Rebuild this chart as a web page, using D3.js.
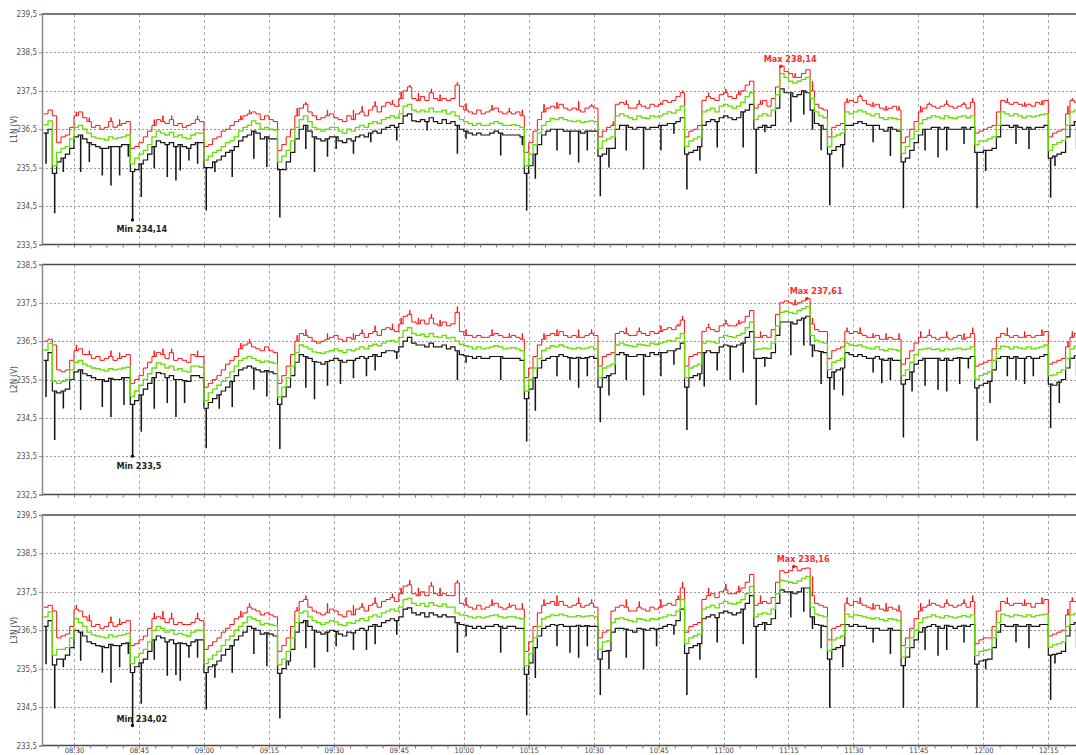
<!DOCTYPE html>
<html>
<head>
<meta charset="utf-8">
<script src="https://cdn.jsdelivr.net/npm/d3@7"></script>
<style>
  body { margin: 0; background: #fff; }
  svg { display: block; }
  text { font-family: "Liberation Sans Narrow", "DejaVu Sans Condensed", "Liberation Sans", sans-serif; }
</style>
</head>
<body>
<svg id="chart" width="1076" height="755"></svg>
<script>
// One sample per minute, starting at this time
const startTime = "08:23";

// Time-axis labels
const timeTicks = ["08:30","08:45","09:00","09:15","09:30","09:45","10:00","10:15",
                   "10:30","10:45","11:00","11:15","11:30","11:45","12:00","12:15"];

// Voltage tick labels per phase
const yTicksL1 = [233.5, 234.5, 235.5, 236.5, 237.5, 238.5, 239.5];
const yTicksL2 = [232.5, 233.5, 234.5, 235.5, 236.5, 237.5, 238.5];
const yTicksL3 = [233.5, 234.5, 235.5, 236.5, 237.5, 238.5, 239.5];

const phaseNames = ["L1N (V)", "L2N (V)", "L3N (V)"];

// ---- L1N ----
const l1Avg = [
236.62,236.72,235.55,235.9,236.0,236.05,236.25,236.55,236.6,236.5,236.4,236.3,236.27,236.25,236.22,
236.3,236.25,236.28,236.3,236.35,235.6,235.75,235.85,235.95,236.1,236.3,236.45,236.4,236.35,236.42,
236.3,236.35,236.28,236.25,236.35,236.4,236.4,235.7,235.8,235.9,235.95,236.05,236.15,236.2,236.3,
236.45,236.55,236.6,236.72,236.65,236.5,236.55,236.5,236.48,235.65,235.8,235.95,236.2,236.55,236.75,
236.85,236.7,236.55,236.5,236.45,236.5,236.55,236.55,236.45,236.4,236.5,236.45,236.55,236.6,236.55,
236.65,236.7,236.65,236.75,236.8,236.85,236.8,236.9,237.1,237.15,237.0,236.95,237.0,236.95,237.05,
236.95,236.95,237.0,236.9,236.95,236.85,236.75,236.7,236.65,236.6,236.65,236.6,236.6,236.65,236.7,
236.65,236.6,236.6,236.62,236.6,236.55,235.55,235.85,236.1,236.4,236.6,236.7,236.78,236.75,236.8,
236.75,236.72,236.7,236.72,236.68,236.7,236.72,236.7,236.0,236.2,236.25,236.3,236.85,236.9,236.85,
236.8,236.75,236.85,236.8,236.78,236.85,236.82,236.85,236.9,236.95,236.92,237.0,237.1,236.05,236.2,
236.25,236.3,236.95,237.0,237.05,236.95,237.1,237.15,237.1,237.05,237.1,237.2,237.35,237.45,236.75,
236.85,236.9,236.85,237.0,237.4,237.95,237.85,237.75,237.7,237.75,237.8,237.85,237.3,236.95,236.85,
236.8,236.05,236.3,236.35,236.4,236.95,236.9,236.95,237.0,236.95,236.9,236.85,236.9,236.8,236.75,
236.8,236.78,236.75,235.87,236.05,236.25,236.45,236.65,236.75,236.8,236.85,236.82,236.78,236.85,236.8,
236.78,236.82,236.85,236.8,236.85,236.1,236.2,236.2,236.25,236.3,236.6,236.95,236.9,236.85,236.9,
236.85,236.8,236.85,236.82,236.85,236.88,236.9,235.95,236.1,236.15,236.2,236.6,236.95,237.0];
// per-minute maximum, with short peaks listed separately as [minute index, volts]
const l1Max = [
236.9,237.0,236.85,236.15,236.3,236.35,236.55,236.85,236.95,236.8,236.7,236.55,236.6,236.5,236.55,
236.7,236.55,236.6,236.65,236.7,236.0,236.05,236.15,236.3,236.45,236.6,236.75,236.7,236.65,236.75,
236.6,236.65,236.55,236.6,236.65,236.75,236.7,236.05,236.1,236.25,236.3,236.45,236.5,236.6,236.7,
236.75,236.85,236.9,236.95,236.9,236.75,236.85,236.75,236.7,235.95,236.1,236.3,236.5,236.85,237.05,
237.15,236.95,236.85,236.75,236.8,236.85,236.9,236.8,236.75,236.7,236.85,236.75,236.9,236.95,236.85,
237.0,237.1,236.95,237.1,237.2,237.15,237.1,237.3,237.5,237.6,237.3,237.25,237.35,237.25,237.45,
237.3,237.25,237.3,237.25,237.3,237.65,237.1,237.0,236.95,236.9,237.0,236.9,236.95,237.0,237.05,
236.95,236.9,236.95,236.9,236.95,236.85,235.9,236.15,236.45,236.75,236.95,237.05,237.1,237.05,237.15,
237.05,237.0,237.05,237.0,236.95,237.05,237.1,237.05,236.3,236.45,236.55,236.6,237.15,237.2,237.15,
237.05,237.05,237.15,237.1,237.05,237.15,237.1,237.15,237.25,237.2,237.25,237.35,237.45,236.3,236.45,
236.5,236.6,237.25,237.35,237.3,237.25,237.4,237.45,237.35,237.3,237.4,237.5,237.65,237.75,237.05,
237.15,237.25,237.1,237.3,237.6,238.14,238.0,237.95,237.85,237.85,237.95,238.05,237.5,237.15,237.05,
237.0,236.3,236.55,236.6,236.65,237.2,237.25,237.2,237.35,237.25,237.15,237.1,237.15,237.05,237.0,
237.05,237.1,237.0,236.15,236.3,236.5,236.7,236.95,237.05,237.15,237.1,237.05,237.1,237.15,237.1,
237.05,237.1,237.15,237.05,237.2,236.4,236.45,236.5,236.55,236.6,236.95,237.25,237.2,237.15,237.2,
237.15,237.1,237.15,237.1,237.2,237.15,237.25,236.3,236.4,236.45,236.5,236.9,237.25,237.2];
const l1Peaks = [
[7,236.95],[10,236.8],[15,236.8],[17,236.75],[25,236.75],[27,236.85],[29,236.85],[35,236.85],[45,236.85],
[47,237.0],[58,237.05],[60,237.2],[65,237.0],[71,237.0],[73,237.1],[76,237.22],[80,237.26],[82,237.48],
[84,237.65],[86,237.44],[89,237.55],[91,237.4],[95,237.72],[97,237.17],[103,237.13],[107,237.05],
[110,237.0],[115,237.15],[118,237.2],[123,237.23],[126,237.15],[131,236.7],[134,237.25],[137,237.25],
[142,237.2],[146,237.35],[147,237.5],[153,237.45],[157,237.55],[160,237.5],[165,237.25],[173,237.95],
[177,237.75],[185,237.3],[188,237.4],[191,237.2],[194,237.1],[197,237.1],[202,237.1],[204,237.2],
[208,237.25],[212,237.2],[214,237.3],[222,237.3],[226,237.2],[230,237.25],[236,237.1],[237,237.3]];
// per-minute minimum, with short dips listed separately as [minute index, volts]
const l1Min = [
236.4,236.5,235.35,235.65,235.75,235.85,236.0,236.3,236.35,236.25,236.15,236.1,236.05,236.0,236.0,
236.05,236.05,236.05,236.1,236.1,235.4,235.45,235.6,235.7,235.85,236.05,236.2,236.15,236.1,236.15,
236.05,236.1,236.05,236.0,236.1,236.15,236.15,235.5,235.5,235.65,235.7,235.8,235.9,235.95,236.05,
236.2,236.3,236.35,236.45,236.4,236.25,236.3,236.25,236.25,235.45,235.45,235.65,235.9,236.25,236.5,
236.6,236.45,236.3,236.25,236.2,236.25,236.3,236.3,236.2,236.15,236.25,236.2,236.3,236.35,236.3,
236.4,236.45,236.4,236.5,236.55,236.6,236.55,236.65,236.85,236.9,236.72,236.7,236.75,236.7,236.8,
236.7,236.65,236.75,236.65,236.7,236.6,236.5,236.45,236.4,236.35,236.4,236.35,236.35,236.4,236.45,
236.4,236.35,236.35,236.35,236.35,236.3,235.35,235.55,235.85,236.1,236.35,236.45,236.5,236.5,236.5,
236.45,236.45,236.45,236.45,236.4,236.45,236.45,236.45,235.8,235.85,236.0,236.0,236.5,236.6,236.6,
236.55,236.5,236.55,236.55,236.5,236.55,236.55,236.6,236.6,236.65,236.65,236.7,236.8,235.85,235.9,
235.95,236.05,236.6,236.7,236.75,236.7,236.8,236.85,236.8,236.75,236.8,236.95,237.0,237.15,236.5,
236.55,236.6,236.55,236.6,237.05,237.55,237.45,237.45,237.35,237.4,237.5,237.45,237.0,236.65,236.6,
236.5,235.85,235.95,236.05,236.1,236.6,236.6,236.65,236.7,236.65,236.6,236.6,236.6,236.5,236.45,
236.55,236.5,236.45,235.65,235.75,235.95,236.15,236.35,236.5,236.5,236.55,236.55,236.5,236.55,236.5,
236.5,236.5,236.55,236.5,236.55,235.9,235.9,235.95,235.95,236.0,236.3,236.6,236.6,236.55,236.6,
236.55,236.5,236.55,236.5,236.55,236.55,236.6,235.75,235.8,235.85,235.9,236.3,236.6,236.7];
const l1Dips = [
[0,235.62],[2,234.33],[4,235.4],[8,235.4],[10,235.66],[13,235.31],[15,235.05],[17,235.31],[19,235.8],
[20,234.14],[22,234.75],[25,235.5],[28,235.27],[30,235.18],[31,235.44],[33,235.7],[35,235.62],[37,234.4],
[39,235.4],[43,235.27],[48,235.75],[51,235.53],[54,234.22],[60,236.0],[62,235.4],[65,235.8],[67,236.0],
[71,235.88],[75,236.18],[81,236.22],[88,236.48],[95,235.88],[97,236.27],[105,235.83],[110,236.1],
[111,234.4],[113,235.23],[118,235.96],[121,235.85],[123,235.65],[125,235.96],[128,234.77],[130,235.52],
[134,235.96],[138,235.47],[142,235.96],[145,236.4],[148,234.95],[151,235.7],[155,236.04],[161,236.04],
[164,235.36],[166,236.44],[172,236.7],[175,236.9],[177,236.5],[179,235.97],[181,234.54],[184,235.52],
[191,236.18],[195,235.82],[198,234.46],[203,235.96],[206,235.78],[208,235.96],[212,236.13],[215,234.46],
[217,235.43],[224,236.13],[227,236.0],[232,234.73],[233,235.56],[238,236.0]];

// ---- L2N ----
const l2Avg = [
236.27,236.44,235.45,235.4,235.45,235.5,235.75,235.95,236.0,235.9,235.85,235.8,235.78,235.75,235.72,
235.78,235.75,235.77,235.8,235.82,235.06,235.2,235.35,235.5,235.65,235.8,235.93,235.9,235.8,235.85,
235.75,235.78,235.72,235.7,235.85,235.85,235.82,234.95,235.15,235.25,235.35,235.45,235.55,235.7,235.85,
236.0,236.05,236.1,236.05,236.0,235.95,235.98,235.95,235.92,235.05,235.3,235.55,235.85,236.2,236.4,
236.35,236.3,236.22,236.2,236.18,236.22,236.25,236.3,236.25,236.2,236.28,236.25,236.3,236.35,236.3,
236.38,236.42,236.38,236.45,236.5,236.52,236.48,236.6,236.78,236.85,236.7,236.65,236.68,236.62,236.7,
236.62,236.6,236.65,236.58,236.6,236.5,236.42,236.38,236.35,236.3,236.35,236.3,236.32,236.35,236.38,
236.35,236.3,236.32,236.33,236.3,236.25,235.2,235.5,235.8,236.05,236.25,236.32,236.38,236.35,236.4,
236.35,236.32,236.3,236.33,236.3,236.32,236.35,236.3,235.55,235.8,235.85,235.9,236.4,236.45,236.4,
236.38,236.35,236.42,236.4,236.38,236.45,236.42,236.45,236.48,236.52,236.5,236.58,236.7,235.55,235.8,
235.85,235.9,236.45,236.5,236.48,236.45,236.6,236.65,236.62,236.6,236.65,236.7,236.85,237.0,236.28,
236.3,236.32,236.3,236.45,236.9,237.25,237.28,237.25,237.22,237.3,237.35,237.4,236.65,236.52,236.48,
236.45,235.76,235.95,236.0,236.05,236.45,236.4,236.38,236.4,236.35,236.32,236.3,236.35,236.28,236.25,
236.3,236.28,236.25,235.6,235.75,235.95,236.15,236.28,236.3,236.32,236.28,236.3,236.25,236.3,236.28,
236.3,236.32,236.28,236.3,236.35,235.5,235.6,235.65,235.7,236.0,236.3,236.37,236.35,236.3,236.35,
236.32,236.3,236.35,236.3,236.32,236.35,236.4,235.6,235.62,235.68,235.75,236.05,236.3,236.37];
const l2Max = [
236.5,236.55,236.4,235.75,235.7,235.75,236.0,236.25,236.3,236.15,236.15,236.05,236.1,236.0,236.05,
236.1,236.0,236.05,236.1,236.15,235.4,235.5,235.6,235.8,235.95,236.1,236.2,236.15,236.05,236.2,
236.0,236.05,236.0,235.95,236.15,236.1,236.1,235.3,235.4,235.5,235.6,235.75,235.9,236.0,236.1,
236.3,236.4,236.45,236.35,236.3,236.25,236.35,236.25,236.2,235.4,235.6,235.85,236.15,236.5,236.7,
236.65,236.6,236.5,236.45,236.5,236.55,236.6,236.65,236.55,236.5,236.6,236.55,236.65,236.7,236.6,
236.7,236.75,236.65,236.8,236.85,236.8,236.75,236.95,237.15,237.2,237.0,236.95,237.05,236.95,237.1,
236.95,236.9,237.0,236.9,236.95,237.25,236.75,236.65,236.65,236.6,236.65,236.6,236.6,236.65,236.7,
236.65,236.6,236.6,236.65,236.6,236.55,235.55,235.8,236.1,236.4,236.55,236.65,236.7,236.65,236.75,
236.65,236.6,236.65,236.6,236.6,236.65,236.7,236.65,235.85,236.1,236.15,236.2,236.7,236.75,236.7,
236.65,236.65,236.75,236.7,236.65,236.75,236.7,236.75,236.8,236.85,236.8,236.9,237.05,235.85,236.1,
236.15,236.2,236.75,236.85,236.8,236.75,236.9,236.95,236.9,236.9,236.95,237.0,237.15,237.3,236.6,
236.6,236.65,236.6,236.8,237.2,237.5,237.55,237.5,237.45,237.5,237.55,237.61,236.95,236.8,236.75,
236.75,236.05,236.25,236.3,236.35,236.75,236.7,236.75,236.7,236.65,236.6,236.6,236.65,236.55,236.55,
236.6,236.55,236.55,235.9,236.05,236.25,236.45,236.6,236.6,236.65,236.6,236.55,236.6,236.6,236.55,
236.6,236.65,236.55,236.6,236.7,235.85,235.9,235.95,236.0,236.3,236.6,236.7,236.65,236.6,236.65,
236.6,236.6,236.65,236.6,236.65,236.65,236.75,235.9,235.95,236.0,236.05,236.35,236.6,236.7];
const l2Peaks = [
[7,236.4],[10,236.25],[15,236.25],[17,236.2],[25,236.25],[27,236.3],[29,236.3],[35,236.25],[45,236.45],
[47,236.55],[58,236.65],[60,236.8],[65,236.7],[71,236.7],[73,236.8],[76,236.9],[80,236.95],[82,237.1],
[84,237.3],[86,237.1],[89,237.2],[91,237.05],[95,237.4],[97,236.8],[103,236.8],[107,236.7],[110,236.7],
[115,236.7],[118,236.8],[123,236.8],[126,236.8],[134,236.85],[137,236.85],[142,236.9],[146,236.95],
[147,237.15],[153,236.95],[157,237.05],[160,237.05],[165,236.75],[173,237.58],[177,237.1],[185,236.85],
[188,236.85],[191,236.7],[194,236.7],[197,236.7],[202,236.75],[204,236.8],[208,236.75],[212,236.7],
[214,236.85],[222,236.85],[226,236.75],[230,236.8],[236,236.5],[237,236.75]];
const l2Min = [
236.0,236.2,235.2,235.15,235.2,235.25,235.5,235.7,235.75,235.65,235.6,235.55,235.5,235.5,235.45,
235.53,235.5,235.5,235.55,235.55,234.85,234.95,235.1,235.25,235.4,235.55,235.68,235.65,235.55,235.6,
235.5,235.5,235.47,235.45,235.6,235.6,235.55,234.75,234.9,235.0,235.1,235.2,235.3,235.45,235.6,
235.75,235.8,235.85,235.8,235.75,235.7,235.73,235.7,235.65,234.85,235.05,235.3,235.6,235.95,236.15,
236.1,236.05,235.97,235.95,235.9,235.97,236.0,236.05,236.0,235.95,236.0,236.0,236.05,236.1,236.05,
236.1,236.15,236.1,236.2,236.25,236.25,236.22,236.35,236.5,236.6,236.45,236.4,236.4,236.35,236.45,
236.35,236.35,236.4,236.3,236.35,236.25,236.15,236.12,236.1,236.05,236.1,236.05,236.05,236.1,236.1,
236.1,236.05,236.05,236.05,236.05,236.0,235.0,235.25,235.55,235.8,236.0,236.05,236.1,236.1,236.15,
236.1,236.07,236.05,236.08,236.05,236.07,236.1,236.05,235.3,235.55,235.6,235.65,236.15,236.2,236.15,
236.1,236.1,236.15,236.15,236.1,236.2,236.15,236.2,236.2,236.25,236.25,236.3,236.45,235.3,235.55,
235.6,235.65,236.2,236.25,236.2,236.2,236.35,236.4,236.37,236.35,236.4,236.45,236.6,236.75,236.05,
236.05,236.07,236.05,236.2,236.65,237.0,237.0,237.0,236.95,237.05,237.1,237.15,236.4,236.25,236.23,
236.2,235.55,235.7,235.75,235.8,236.2,236.15,236.1,236.15,236.1,236.05,236.05,236.1,236.03,236.0,
236.05,236.0,236.0,235.38,235.5,235.7,235.9,236.0,236.05,236.05,236.05,236.05,236.0,236.05,236.0,
236.05,236.07,236.05,236.05,236.1,235.28,235.35,235.4,235.45,235.75,236.05,236.1,236.1,236.05,236.1,
236.05,236.05,236.1,236.05,236.05,236.1,236.15,235.38,235.35,235.43,235.5,235.8,236.05,236.12];
const l2Dips = [
[0,235.06],[2,233.94],[4,234.76],[8,234.72],[13,234.8],[15,234.54],[18,234.85],[20,233.5],[22,234.15],
[25,234.75],[28,234.9],[30,234.54],[32,234.9],[37,233.72],[40,234.75],[43,234.8],[48,235.25],[51,235.07],
[54,233.7],[60,235.3],[62,235.0],[65,235.35],[68,235.4],[71,235.55],[74,235.6],[76,235.75],[81,236.05],
[95,235.5],[97,235.95],[105,235.5],[111,233.9],[113,234.7],[118,235.6],[121,235.5],[123,235.3],[125,235.6],
[128,234.4],[130,235.1],[134,235.5],[138,235.1],[142,235.6],[145,235.9],[148,234.2],[151,235.5],
[152,235.33],[155,235.75],[158,235.5],[161,235.7],[164,234.85],[166,235.85],[172,236.15],[175,236.4],
[177,236.1],[179,235.4],[181,234.2],[182,235.25],[184,235.1],[191,235.7],[193,235.42],[195,235.5],
[198,234.0],[200,235.2],[203,235.35],[206,235.25],[208,235.2],[211,235.4],[213,235.8],[215,233.92],
[218,234.9],[222,235.6],[224,235.5],[226,235.4],[228,235.6],[232,234.25],[234,234.9],[238,235.6]];

// ---- L3N ----
const l3Avg = [
236.85,236.98,235.85,236.0,236.0,236.05,236.3,236.8,236.7,236.6,236.45,236.38,236.35,236.33,236.3,
236.38,236.33,236.36,236.38,236.42,235.63,235.8,235.9,236.0,236.2,236.5,236.6,236.55,236.45,236.5,
236.4,236.42,236.38,236.35,236.45,236.5,236.5,235.63,235.75,235.85,235.95,236.1,236.25,236.35,236.5,
236.6,236.7,236.85,236.8,236.75,236.65,236.68,236.65,236.62,235.6,235.75,235.95,236.3,236.7,236.95,
237.0,236.85,236.75,236.7,236.65,236.7,236.75,236.72,236.65,236.62,236.7,236.68,236.75,236.8,236.75,
236.85,236.9,236.85,236.95,237.0,237.05,237.0,237.1,237.3,237.33,237.2,237.15,237.2,237.12,237.22,
237.15,237.12,237.18,237.1,237.1,236.95,236.9,236.88,236.85,236.82,236.85,236.82,236.85,236.88,236.9,
236.85,236.82,236.85,236.85,236.82,236.8,235.58,235.9,236.3,236.6,236.8,236.85,236.9,236.88,236.92,
236.88,236.85,236.85,236.88,236.85,236.87,236.88,236.85,236.0,236.2,236.22,236.7,236.8,236.82,236.78,
236.75,236.72,236.8,236.78,236.75,236.8,236.78,236.82,236.85,236.9,236.88,237.0,237.3,236.15,236.3,
236.35,236.4,237.05,237.1,237.15,237.08,237.2,237.25,237.2,237.18,237.22,237.3,237.45,237.64,236.85,
236.92,236.95,236.92,237.05,237.45,237.8,237.78,237.75,237.72,237.78,237.85,237.9,237.1,236.92,236.88,
236.85,235.97,236.25,236.3,236.35,236.92,236.85,236.9,236.88,236.85,236.82,236.8,236.82,236.78,236.75,
236.8,236.78,236.75,235.8,236.05,236.3,236.5,236.7,236.82,236.85,236.9,236.85,236.82,236.88,236.85,
236.82,236.85,236.88,236.85,236.9,235.84,235.95,235.98,236.0,236.3,236.7,236.92,236.88,236.85,236.9,
236.88,236.85,236.9,236.85,236.88,236.9,236.92,236.06,236.12,236.15,236.2,236.6,236.9,236.94];
const l3Max = [
237.1,237.15,237.0,236.3,236.35,236.4,236.6,237.05,237.0,236.85,236.75,236.6,236.65,236.55,236.6,
236.7,236.6,236.65,236.7,236.75,236.1,236.15,236.25,236.35,236.55,236.8,236.85,236.8,236.7,236.8,
236.65,236.7,236.65,236.65,236.7,236.8,236.75,236.0,236.1,236.2,236.3,236.45,236.55,236.65,236.8,
236.85,236.95,237.1,237.05,237.0,236.9,236.95,236.9,236.85,235.95,236.1,236.3,236.6,237.0,237.25,
237.3,237.1,237.0,236.95,236.9,236.95,237.05,237.0,236.9,236.85,237.0,236.9,237.05,237.1,237.0,
237.15,237.2,237.1,237.25,237.3,237.35,237.25,237.45,237.65,237.68,237.45,237.4,237.5,237.4,237.65,
237.45,237.4,237.45,237.4,237.4,237.73,237.2,237.15,237.1,237.05,237.15,237.05,237.1,237.15,237.2,
237.1,237.05,237.1,237.15,237.05,237.05,235.95,236.2,236.6,236.95,237.15,237.2,237.25,237.15,237.25,
237.15,237.1,237.15,237.2,237.1,237.15,237.2,237.1,236.3,236.45,236.5,237.0,237.1,237.15,237.1,
237.0,237.0,237.1,237.05,237.0,237.1,237.05,237.1,237.15,237.2,237.15,237.3,237.6,236.45,236.6,
236.65,236.7,237.3,237.4,237.45,237.35,237.5,237.55,237.45,237.45,237.5,237.6,237.75,237.95,237.15,
237.2,237.25,237.2,237.35,237.75,238.05,238.0,238.05,238.16,238.05,238.1,238.12,237.4,237.2,237.15,
237.1,236.25,236.55,236.6,236.65,237.2,237.15,237.25,237.2,237.15,237.1,237.05,237.15,237.05,237.0,
237.1,237.05,237.0,236.1,236.3,236.55,236.8,237.0,237.1,237.15,237.2,237.15,237.1,237.2,237.15,
237.1,237.15,237.2,237.1,237.25,236.15,236.25,236.3,236.3,236.6,237.0,237.25,237.2,237.15,237.2,
237.2,237.15,237.2,237.1,237.2,237.2,237.3,236.35,236.4,236.45,236.5,236.9,237.25,237.25];
const l3Peaks = [
[7,237.15],[10,236.9],[15,236.85],[17,236.8],[25,236.95],[27,237.0],[29,236.95],[35,236.95],[45,237.0],
[47,237.2],[58,237.1],[60,237.4],[65,237.2],[71,237.15],[73,237.2],[76,237.35],[80,237.45],[82,237.6],
[84,237.8],[86,237.6],[89,237.75],[91,237.6],[95,237.8],[97,237.35],[103,237.3],[107,237.2],[110,237.2],
[115,237.3],[118,237.4],[123,237.35],[126,237.3],[134,237.3],[137,237.25],[142,237.3],[146,237.4],
[147,237.75],[153,237.6],[157,237.7],[160,237.65],[165,237.4],[177,237.9],[185,237.35],[188,237.35],
[191,237.2],[194,237.2],[197,237.15],[202,237.2],[204,237.3],[208,237.3],[212,237.3],[214,237.4],
[222,237.35],[226,237.3],[230,237.35],[236,237.05],[237,237.35]];
const l3Min = [
236.6,236.75,235.6,235.75,235.75,235.85,236.05,236.5,236.45,236.35,236.2,236.15,236.1,236.08,236.05,
236.13,236.1,236.1,236.15,236.17,235.4,235.55,235.65,235.75,235.95,236.25,236.35,236.3,236.2,236.25,
236.15,236.17,236.15,236.1,236.2,236.25,236.25,235.4,235.55,235.6,235.7,235.85,236.0,236.1,236.25,
236.35,236.45,236.6,236.55,236.5,236.4,236.43,236.4,236.35,235.38,235.5,235.7,236.0,236.45,236.7,
236.75,236.6,236.5,236.45,236.4,236.45,236.5,236.47,236.4,236.35,236.45,236.43,236.5,236.55,236.5,
236.6,236.65,236.6,236.7,236.75,236.8,236.75,236.85,237.05,237.08,236.95,236.9,236.95,236.85,236.95,
236.9,236.85,236.9,236.85,236.85,236.7,236.65,236.63,236.6,236.55,236.6,236.55,236.6,236.6,236.65,
236.6,236.55,236.6,236.6,236.55,236.55,235.35,235.65,236.05,236.35,236.55,236.6,236.65,236.63,236.65,
236.6,236.6,236.6,236.63,236.6,236.62,236.6,236.6,235.75,235.95,235.97,236.45,236.55,236.55,236.53,
236.5,236.45,236.55,236.53,236.5,236.55,236.53,236.55,236.6,236.65,236.63,236.75,237.05,235.9,236.05,
236.1,236.15,236.8,236.85,236.9,236.83,236.95,237.0,236.95,236.9,236.95,237.05,237.2,237.4,236.6,
236.65,236.7,236.65,236.8,237.2,237.55,237.5,237.5,237.45,237.5,237.6,237.6,236.85,236.65,236.63,
236.6,235.75,236.0,236.05,236.1,236.65,236.6,236.65,236.6,236.6,236.55,236.55,236.55,236.5,236.5,
236.55,236.5,236.5,235.58,235.8,236.05,236.25,236.45,236.57,236.6,236.65,236.6,236.55,236.63,236.6,
236.55,236.6,236.63,236.6,236.65,235.62,235.7,235.73,235.75,236.05,236.45,236.65,236.6,236.6,236.65,
236.6,236.6,236.65,236.6,236.6,236.65,236.65,235.85,235.87,235.9,235.95,236.35,236.65,236.7];
const l3Dips = [
[0,235.63],[2,234.48],[4,235.55],[8,235.72],[13,235.41],[15,235.15],[17,235.55],[19,235.9],[20,234.02],
[22,234.6],[25,235.75],[28,235.33],[30,235.35],[31,235.2],[33,235.8],[35,235.8],[37,234.45],[39,235.28],
[43,235.41],[48,235.9],[51,235.58],[54,234.22],[56,235.6],[60,236.05],[62,235.54],[65,235.95],[67,236.1],
[71,236.0],[74,236.0],[76,236.15],[81,236.4],[95,235.93],[97,236.35],[105,235.93],[111,234.3],[113,235.27],
[118,236.1],[121,235.93],[123,235.8],[125,236.1],[128,234.83],[130,235.5],[134,235.8],[138,235.5],
[141,236.1],[145,236.4],[148,234.83],[151,235.75],[155,236.2],[161,236.15],[164,235.27],[166,236.5],
[172,236.85],[175,237.0],[177,236.55],[179,236.05],[181,234.5],[184,235.55],[191,236.2],[195,235.9],
[198,234.5],[203,236.0],[206,235.85],[208,236.0],[212,236.2],[215,234.5],[217,235.5],[224,236.2],
[227,236.05],[232,234.7],[233,235.65],[238,236.05]];

// Annotation placement per phase (label offsets relative to the marker)
const minLabelDy = [12.5, 13, -3.5];
const maxLabelDy = [-4.5, -4.5, -4.5];

// ---------------------------------------------------------------
const W = 1076, H = 755;
const plotLeft = 42, plotRight = 1076;
const boxes = [
  { top: 14,    bottom: 244.5 },
  { top: 264.5, bottom: 494.5 },
  { top: 515,   bottom: 745.5 }
];

const phases = [
  { name: phaseNames[0], ticks: yTicksL1, avg: l1Avg, max: l1Max, peaks: l1Peaks, min: l1Min, dips: l1Dips },
  { name: phaseNames[1], ticks: yTicksL2, avg: l2Avg, max: l2Max, peaks: l2Peaks, min: l2Min, dips: l2Dips },
  { name: phaseNames[2], ticks: yTicksL3, avg: l3Avg, max: l3Max, peaks: l3Peaks, min: l3Min, dips: l3Dips }
];

const parseHM = d3.timeParse("%H:%M");
const t0 = parseHM(startTime);
const majorTimes = timeTicks.map(parseHM);
const atMinute = m => new Date(t0.getTime() + m * 60000);

const x = d3.scaleTime()
  .domain([parseHM("08:30"), parseHM("12:15")])
  .range([74, 1048.3]);

// minor ticks: four per quarter hour, within the plot width
const minorTimes = [];
for (let m = -15; m <= 240; m += 3.75) {
  const t = new Date(parseHM("08:30").getTime() + m * 60000);
  const px = x(t);
  if (px >= plotLeft + 1 && px <= plotRight) minorTimes.push(t);
}

const comma = v => String(v).replace(".", ",");
const axisFont = '"Liberation Sans Narrow", "DejaVu Sans Condensed", sans-serif';

const svg = d3.select("#chart");
svg.append("rect").attr("width", W).attr("height", H).attr("fill", "#fff");
const defs = svg.append("defs");

// step series: one level per minute
const stepPoints = v => {
  const pts = v.map((val, i) => ({ t: atMinute(i), v: val }));
  pts.push({ t: atMinute(v.length), v: v[v.length - 1] });
  return pts;
};
// per-minute level plus narrow excursions (peaks or dips) inside the minute
const spikedPoints = (v, spikes) => {
  const at = new Map(spikes.map(d => [d[0], d[1]]));
  const pts = [];
  v.forEach((val, i) => {
    pts.push({ t: atMinute(i), v: val });
    if (at.has(i)) {
      pts.push({ t: atMinute(i + 0.5), v: at.get(i) });
      pts.push({ t: atMinute(i + 0.58), v: val });
    }
  });
  pts.push({ t: atMinute(v.length), v: v[v.length - 1] });
  return pts;
};

phases.forEach((p, k) => {
  const box = boxes[k];
  const y = d3.scaleLinear()
    .domain([p.ticks[0], p.ticks[p.ticks.length - 1]])
    .range([box.bottom, box.top]);

  const g = svg.append("g");

  defs.append("clipPath").attr("id", "clip" + k)
    .append("rect")
    .attr("x", plotLeft).attr("y", box.top)
    .attr("width", plotRight - plotLeft).attr("height", box.bottom - box.top);

  // dashed grid
  g.append("g").selectAll("line")
    .data(p.ticks.slice(1, -1))
    .join("line")
    .attr("x1", plotLeft).attr("x2", plotRight)
    .attr("y1", d => Math.round(y(d)) + 0.5).attr("y2", d => Math.round(y(d)) + 0.5)
    .attr("stroke", "#9a9a9a").attr("stroke-width", 1)
    .attr("stroke-dasharray", "2,2");

  g.append("g").selectAll("line")
    .data(majorTimes)
    .join("line")
    .attr("x1", d => Math.round(x(d)) + 0.5).attr("x2", d => Math.round(x(d)) + 0.5)
    .attr("y1", box.top).attr("y2", box.bottom)
    .attr("stroke", "#a8a8a8").attr("stroke-width", 1)
    .attr("stroke-dasharray", "3,3");

  const line = d3.line()
    .x(d => x(d.t))
    .y(d => y(d.v))
    .curve(d3.curveStepAfter);

  const plot = g.append("g").attr("clip-path", "url(#clip" + k + ")");
  plot.append("path").datum(spikedPoints(p.max, p.peaks))
    .attr("d", line).attr("fill", "none")
    .attr("stroke", "#ff1010").attr("stroke-width", 1);
  plot.append("path").datum(spikedPoints(p.min, p.dips))
    .attr("d", line).attr("fill", "none")
    .attr("stroke", "#151515").attr("stroke-width", 1.2);
  plot.append("path").datum(stepPoints(p.avg))
    .attr("d", line).attr("fill", "none")
    .attr("stroke", "#66dd00").attr("stroke-width", 1.3);

  // frame: top and bottom rules
  g.append("line")
    .attr("x1", plotLeft).attr("x2", plotRight)
    .attr("y1", box.top).attr("y2", box.top)
    .attr("stroke", "#4a4a4a").attr("stroke-width", 1.5);
  g.append("line")
    .attr("x1", plotLeft).attr("x2", plotRight)
    .attr("y1", box.bottom).attr("y2", box.bottom)
    .attr("stroke", "#4a4a4a").attr("stroke-width", 1.5);

  // left axis
  const ax = g.append("g")
    .attr("transform", `translate(${plotLeft},0)`)
    .call(d3.axisLeft(y).tickValues(p.ticks).tickSize(3).tickPadding(2).tickFormat(comma));
  ax.select(".domain").attr("stroke", "#8a8a8a").attr("stroke-width", 1.5);
  ax.selectAll(".tick line").attr("stroke", "#8a8a8a");
  ax.selectAll(".tick text")
    .attr("fill", "#555").attr("font-size", 8)
    .style("font-family", axisFont);

  // minor time ticks under each panel
  const mt = g.append("g")
    .attr("transform", `translate(0,${box.bottom})`)
    .call(d3.axisBottom(x).tickValues(minorTimes).tickSize(3).tickFormat(""));
  mt.select(".domain").remove();
  mt.selectAll(".tick line").attr("stroke", "#777");

  // axis title
  g.append("text")
    .attr("transform", `translate(17,${(box.top + box.bottom) / 2}) rotate(-90)`)
    .attr("text-anchor", "middle")
    .attr("font-size", 8)
    .attr("fill", "#444")
    .text(p.name);

  // extremes: highest maximum and lowest minimum (short excursions included)
  const highs = p.max.map((v, i) => ({ t: atMinute(i), v }))
    .concat(p.peaks.map(d => ({ t: atMinute(d[0] + 0.5), v: d[1] })));
  const high = highs.reduce((a, b) => (b.v > a.v ? b : a));
  const lows = p.min.map((v, i) => ({ t: atMinute(i), v }))
    .concat(p.dips.map(d => ({ t: atMinute(d[0] + 0.5), v: d[1] })));
  const low = lows.reduce((a, b) => (b.v < a.v ? b : a));

  const mx = x(high.t) + 1;
  const my = y(high.v);
  const nx = x(low.t);
  const ny = y(low.v);

  g.append("circle").attr("cx", mx).attr("cy", my).attr("r", 1.7).attr("fill", "#ff1010");
  g.append("text")
    .attr("x", mx - 17).attr("y", my + maxLabelDy[k])
    .attr("font-size", 9).attr("font-weight", "bold")
    .attr("fill", "#ff2a2a")
    .text("Max " + comma(high.v));

  g.append("circle").attr("cx", nx).attr("cy", ny).attr("r", 1.7).attr("fill", "#111");
  g.append("text")
    .attr("x", nx - 16).attr("y", ny + minLabelDy[k])
    .attr("font-size", 9).attr("font-weight", "bold")
    .attr("fill", "#222")
    .text("Min " + comma(low.v));

  // time labels under the last panel
  if (k === phases.length - 1) {
    const xa = g.append("g")
      .attr("transform", `translate(0,${box.bottom})`)
      .call(d3.axisBottom(x).tickValues(majorTimes).tickSize(2).tickPadding(0)
        .tickFormat(d3.timeFormat("%H:%M")));
    xa.select(".domain").remove();
    xa.selectAll(".tick line").attr("stroke", "#777");
    xa.selectAll(".tick text")
      .attr("fill", "#444").attr("font-size", 7.5)
      .style("font-family", axisFont);
  }
});
</script>
</body>
</html>
